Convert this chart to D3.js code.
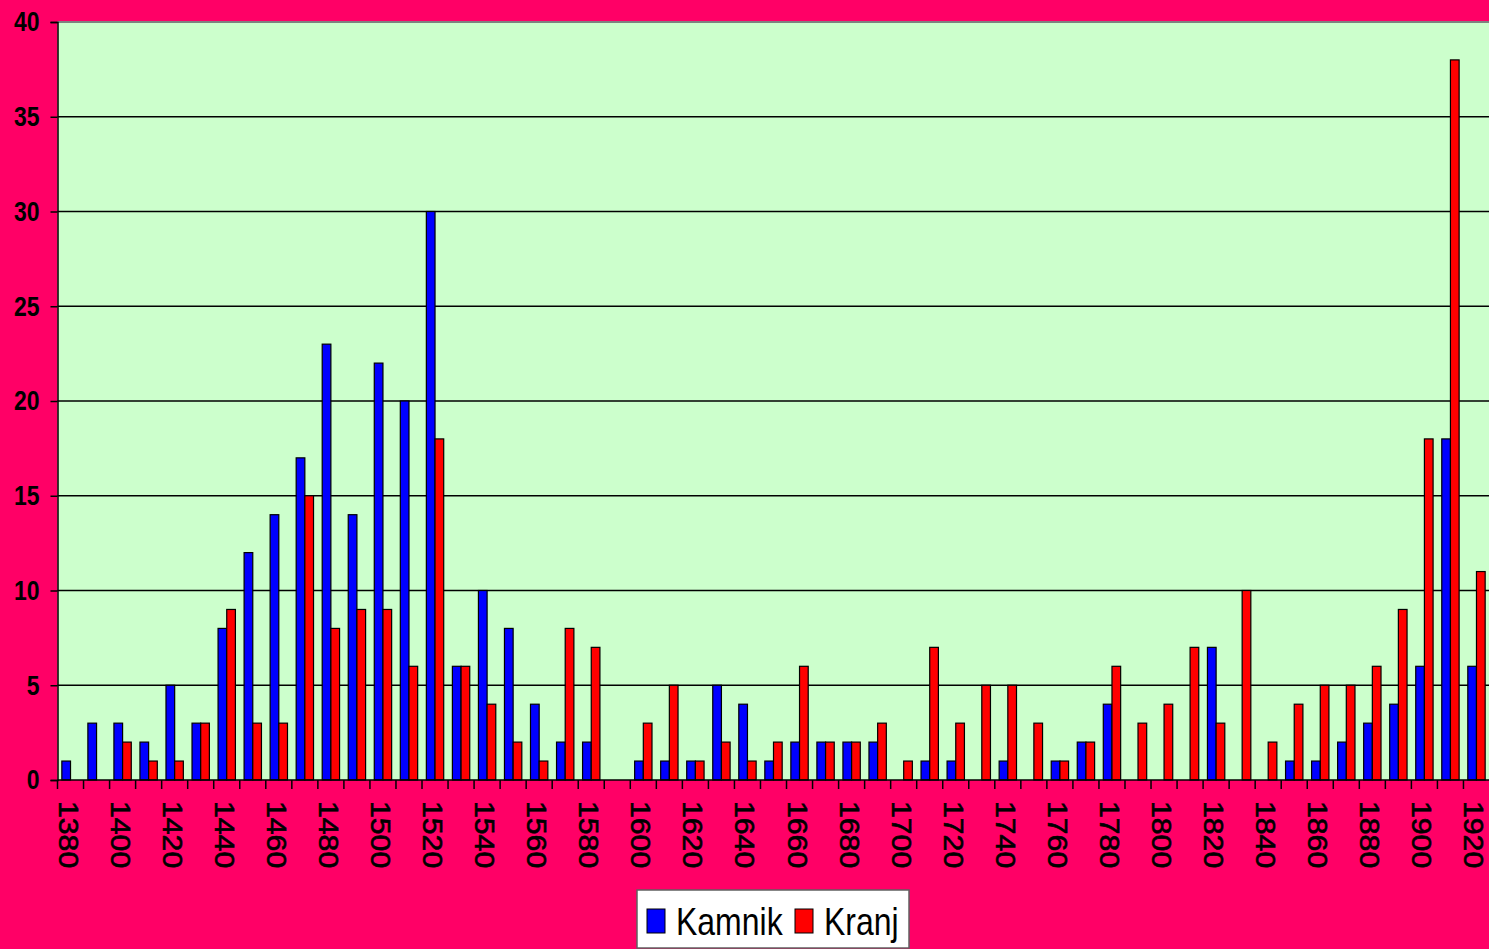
<html>
<head>
<meta charset="UTF-8">
<script src="https://cdnjs.cloudflare.com/ajax/libs/d3/7.8.5/d3.min.js"></script>
<style>
  body { margin: 0; background: #ff0066; overflow: hidden; }
</style>
</head>
<body>
<script>
    // decades on the x axis
    var years = d3.range(1380, 1921, 10);
    var kamnik = [1, 3, 3, 2, 5, 3, 8, 12, 14, 17, 23, 14, 22, 20, 30, 6, 10, 8, 4, 2, 2, 0,
                  1, 1, 1, 5, 4, 1, 2, 2, 2, 2, 0, 1, 1, 0, 1, 0, 1, 2, 4, 0, 0, 0, 7, 0,
                  0, 1, 1, 2, 3, 4, 6, 18, 6];
    var kranj  = [0, 0, 2, 1, 1, 3, 9, 3, 3, 15, 8, 9, 9, 6, 18, 6, 4, 2, 1, 8, 7, 0,
                  3, 5, 1, 2, 1, 2, 6, 2, 2, 3, 1, 7, 3, 5, 5, 3, 1, 2, 6, 3, 4, 7, 3, 10,
                  2, 4, 5, 5, 6, 9, 18, 38, 11];
    var seriesNames = ["Kamnik", "Kranj"];
    var seriesColors = ["#0000ff", "#ff0000"];
    var yTicks = [0, 5, 10, 15, 20, 25, 30, 35, 40];

    var width = 1489, height = 949;
    var plotL = 57.5, plotR = 1489.5, plotT = 22, plotB = 780;
    var narrow = 0.82;   // no narrow font installed, squeeze text instead

    var svg = d3.select("body").append("svg")
            .attr("width", width)
            .attr("height", height);

    svg.append("rect").attr("width", width).attr("height", height).attr("fill", "#ff0066");

    var x = d3.scaleBand()
            .domain(years)
            .range([plotL, plotR])
            .paddingInner(0)
            .paddingOuter(0);

    var x1 = d3.scaleBand()
            .domain(seriesNames)
            .range([x.bandwidth() / 6, x.bandwidth() * 5 / 6]);

    var y = d3.scaleLinear()
            .domain([0, 40])
            .range([plotB, plotT]);

    // plot area
    svg.append("rect")
            .attr("x", plotL).attr("y", plotT)
            .attr("width", plotR - plotL).attr("height", plotB - plotT)
            .attr("fill", "#ccffcc");

    // gridlines
    svg.selectAll(".grid")
            .data(yTicks.filter(function (d) { return d > 0 && d < 40; }))
            .enter().append("line")
            .attr("x1", plotL).attr("x2", plotR)
            .attr("y1", function (d) { return y(d); })
            .attr("y2", function (d) { return y(d); })
            .attr("stroke", "#000")
            .attr("stroke-width", 1.3);

    svg.append("line")
            .attr("x1", plotL).attr("x2", plotR)
            .attr("y1", plotT).attr("y2", plotT)
            .attr("stroke", "#808080").attr("stroke-width", 2);

    // bars
    var rows = years.map(function (yr, i) {
        return {year: yr, values: [kamnik[i], kranj[i]]};
    });

    var groups = svg.selectAll(".grp")
            .data(rows)
            .enter().append("g")
            .attr("transform", function (d) { return "translate(" + x(d.year) + ",0)"; });

    groups.selectAll("rect")
            .data(function (d) {
                return d.values.map(function (v, j) { return {name: seriesNames[j], value: v, j: j}; });
            })
            .enter().append("rect")
            .filter(function (d) { return d.value > 0; })
            .attr("x", function (d) { return x1(d.name); })
            .attr("width", x1.bandwidth())
            .attr("y", function (d) { return y(d.value); })
            .attr("height", function (d) { return plotB - y(d.value); })
            .attr("fill", function (d) { return seriesColors[d.j]; })
            .attr("stroke", "#000")
            .attr("stroke-width", 1.2);

    // y axis
    var yAxis = d3.axisLeft(y).tickValues(yTicks).tickSize(7).tickPadding(0);
    var ga = svg.append("g")
            .attr("transform", "translate(" + plotL + ",0)")
            .call(yAxis);
    ga.select(".domain").attr("stroke", "#000").attr("stroke-width", 1.5);
    ga.selectAll(".tick line").attr("stroke", "#000").attr("stroke-width", 1.5);
    ga.selectAll(".tick text")
            .attr("x", null)
            .attr("transform", "translate(-18,0) scale(" + narrow + ",1)")
            .attr("fill", "#000")
            .style("font-family", "'Liberation Sans', Arial, sans-serif")
            .style("font-weight", "bold")
            .style("font-size", "28px");

    // x axis line and ticks at band boundaries
    svg.append("line")
            .attr("x1", plotL).attr("x2", plotR)
            .attr("y1", plotB).attr("y2", plotB)
            .attr("stroke", "#000").attr("stroke-width", 1.5);

    svg.selectAll(".xtick")
            .data(years)
            .enter().append("line")
            .attr("x1", function (d) { return x(d); })
            .attr("x2", function (d) { return x(d); })
            .attr("y1", plotB).attr("y2", plotB + 9)
            .attr("stroke", "#000").attr("stroke-width", 1.5);

    svg.selectAll(".xlab")
            .data(years.filter(function (d, i) { return i % 2 === 0; }))
            .enter().append("text")
            .attr("transform", function (d) {
                return "translate(" + (x(d) + x.bandwidth() / 2 - 12) + "," + 801 + ") rotate(90) scale(1.12,1)";
            })
            .style("font-family", "'Liberation Sans', Arial, sans-serif")
            .style("font-size", "27px")
            .attr("fill", "#000")
            .attr("stroke", "#000")
            .attr("stroke-width", 0.6)
            .text(function (d) { return d; });

    // legend
    var lg = svg.append("g").attr("transform", "translate(637,890)");
    lg.append("rect")
            .attr("width", 272).attr("height", 58)
            .attr("fill", "#fff")
            .attr("stroke", "#606060").attr("stroke-width", 1.5);

    var legendX = [10, 158];
    seriesNames.forEach(function (name, i) {
        lg.append("rect")
                .attr("x", legendX[i]).attr("y", 19)
                .attr("width", 18).attr("height", 24)
                .attr("fill", seriesColors[i])
                .attr("stroke", "#000").attr("stroke-width", 1);
        lg.append("text")
                .attr("transform", "translate(" + (legendX[i] + 29) + ",45) scale(" + narrow + ",1)")
                .style("font-family", "'Liberation Sans', Arial, sans-serif")
                .style("font-size", "39px")
                .attr("fill", "#000")
                .text(name);
    });
</script>
</body>
</html>
